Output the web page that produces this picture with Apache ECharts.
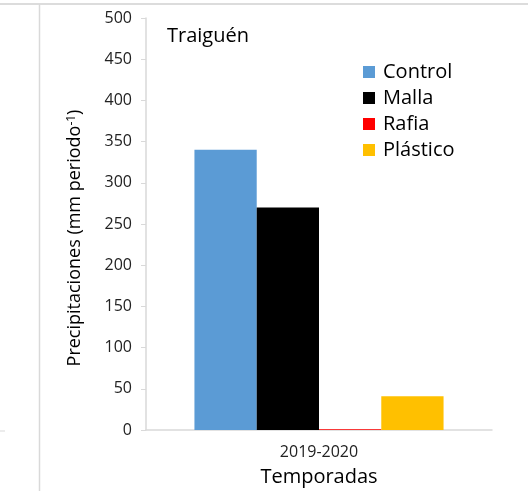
<!DOCTYPE html>
<html>
<head>
<meta charset="utf-8">
<script src="https://cdn.jsdelivr.net/npm/echarts@6/dist/echarts.min.js"></script>
<style>
  html, body { margin: 0; padding: 0; background: #fff; }
  #main { width: 528px; height: 491px; }
</style>
</head>
<body>
<div id="main"></div>
<script>
const seasons = ["2019-2020"];
const treatments = ["Control", "Malla", "Rafia", "Plástico"];
const colors = ["#5b9bd5", "#000000", "#ff0000", "#ffc000"];
const rainfall = [
	[340], // Control
	[270], // Malla
	[1], // Rafia
	[41], // Plástico
];
const yTicks = { min: 0, max: 500, interval: 50 };

const font = "'Open Sans', sans-serif";
const chart = echarts.init(document.getElementById("main"), null, { renderer: "canvas" });

const series = treatments.map((name, i) => ({
	name: name,
	type: "bar",
	data: rainfall[i],
	barGap: "0%",
	barCategoryGap: "28%",
	itemStyle: { color: colors[i] },
}));

chart.setOption({
	animation: false,
	backgroundColor: "#fff",
	textStyle: { fontFamily: font },
	title: {
		text: "Traiguén",
		left: 167,
		top: 26,
		padding: 0,
		textStyle: { fontFamily: font, fontSize: 20, fontWeight: "normal", color: "#000" },
	},
	legend: {
		orient: "vertical",
		left: 363,
		top: 62,
		padding: 0,
		itemWidth: 12,
		itemHeight: 12,
		itemGap: 6,
		icon: "rect",
		data: treatments,
		textStyle: { fontFamily: font, fontSize: 20, color: "#000", padding: [0, 0, 0, 3] },
	},
	grid: { left: 146, right: 36, top: 18, bottom: 61, outerBoundsMode: "none", containLabel: false },
	xAxis: {
		type: "category",
		data: seasons,
		name: "Temporadas",
		nameLocation: "middle",
		nameGap: 37,
		nameTextStyle: { fontFamily: font, fontSize: 20, color: "#000" },
		axisLine: { lineStyle: { color: "#d9d9d9", width: 1.5 } },
		axisTick: { show: false },
		axisLabel: { fontFamily: font, fontSize: 16, color: "#222", margin: 14 },
	},
	yAxis: {
		type: "value",
		min: yTicks.min,
		max: yTicks.max,
		interval: yTicks.interval,
		name: "{a|Precipitaciones (mm periodo}{s|-1}{a|)}",
		nameLocation: "middle",
		nameGap: 62,
		nameTextStyle: {
			padding: [0, 28, 0, 0],
			rich: {
				a: { fontFamily: font, fontSize: 18, color: "#000" },
				s: { fontFamily: font, fontSize: 12, color: "#000", verticalAlign: "top", padding: [0, 0, 6, 0] },
			},
		},
		axisLine: { show: true, lineStyle: { color: "#d9d9d9", width: 1.5 } },
		axisTick: { show: true, length: 5, lineStyle: { color: "#d9d9d9" } },
		axisLabel: { fontFamily: font, fontSize: 16, color: "#222", margin: 14 },
		splitLine: { show: false },
	},
	series: series,
	graphic: [
		{ type: "line", shape: { x1: 0, y1: 4, x2: 528, y2: 4 }, style: { stroke: "#d0d0d0", lineWidth: 1.5 } },
		{ type: "line", shape: { x1: 39.5, y1: 4, x2: 39.5, y2: 491 }, style: { stroke: "#d9d9d9", lineWidth: 1.5 } },
		{ type: "line", shape: { x1: 0, y1: 431, x2: 5, y2: 431 }, style: { stroke: "#d9d9d9", lineWidth: 1 } },
	],
});
</script>
</body>
</html>
